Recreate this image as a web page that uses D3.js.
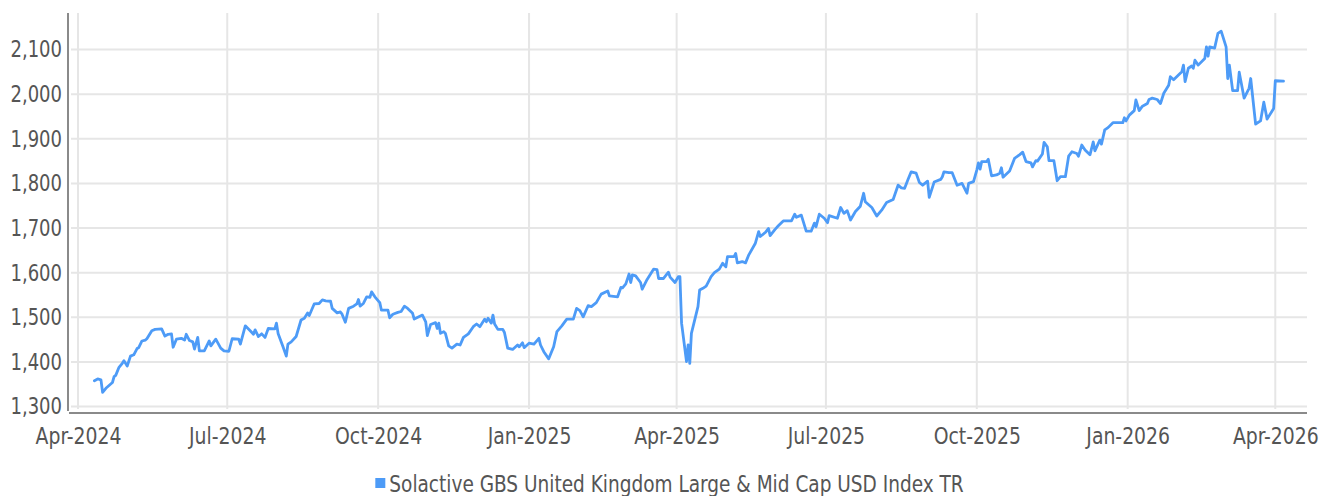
<!DOCTYPE html>
<html><head><meta charset="utf-8">
<script src="https://cdn.jsdelivr.net/npm/d3@7"></script>
<style>
html,body{margin:0;padding:0;background:#fff;}
svg text{font-family:'Liberation Sans Narrow','DejaVu Sans Condensed','Roboto Condensed','Noto Sans',sans-serif;fill:#555;}
</style></head><body>
<svg id="chart" width="1330" height="496"></svg>
<script>
const dates = ["2024-04-11","2024-04-13","2024-04-15","2024-04-16","2024-04-18","2024-04-22","2024-04-23","2024-04-24","2024-04-26","2024-04-28","2024-04-29","2024-05-01","2024-05-03","2024-05-05","2024-05-07","2024-05-08","2024-05-10","2024-05-12","2024-05-13","2024-05-16","2024-05-18","2024-05-22","2024-05-24","2024-05-26","2024-05-28","2024-05-29","2024-05-31","2024-06-03","2024-06-05","2024-06-06","2024-06-08","2024-06-10","2024-06-11","2024-06-13","2024-06-14","2024-06-17","2024-06-20","2024-06-21","2024-06-24","2024-06-27","2024-06-29","2024-07-02","2024-07-04","2024-07-08","2024-07-09","2024-07-12","2024-07-15","2024-07-17","2024-07-18","2024-07-20","2024-07-22","2024-07-24","2024-07-26","2024-07-30","2024-07-31","2024-08-01","2024-08-04","2024-08-06","2024-08-07","2024-08-09","2024-08-12","2024-08-15","2024-08-17","2024-08-19","2024-08-20","2024-08-23","2024-08-26","2024-08-28","2024-08-30","2024-09-02","2024-09-03","2024-09-06","2024-09-08","2024-09-09","2024-09-11","2024-09-13","2024-09-16","2024-09-18","2024-09-19","2024-09-20","2024-09-22","2024-09-24","2024-09-26","2024-09-27","2024-09-29","2024-10-02","2024-10-03","2024-10-07","2024-10-08","2024-10-10","2024-10-13","2024-10-15","2024-10-17","2024-10-19","2024-10-22","2024-10-23","2024-10-28","2024-10-30","2024-10-31","2024-11-02","2024-11-05","2024-11-06","2024-11-07","2024-11-08","2024-11-10","2024-11-11","2024-11-13","2024-11-15","2024-11-18","2024-11-20","2024-11-22","2024-11-25","2024-11-28","2024-11-30","2024-12-02","2024-12-05","2024-12-06","2024-12-07","2024-12-09","2024-12-10","2024-12-11","2024-12-13","2024-12-16","2024-12-17","2024-12-19","2024-12-22","2024-12-25","2024-12-26","2024-12-28","2024-12-29","2025-01-01","2025-01-04","2025-01-07","2025-01-08","2025-01-10","2025-01-13","2025-01-16","2025-01-18","2025-01-21","2025-01-24","2025-01-28","2025-01-30","2025-02-01","2025-02-03","2025-02-06","2025-02-08","2025-02-11","2025-02-14","2025-02-18","2025-02-19","2025-02-24","2025-02-26","2025-02-27","2025-03-01","2025-03-03","2025-03-04","2025-03-05","2025-03-07","2025-03-10","2025-03-11","2025-03-14","2025-03-18","2025-03-20","2025-03-21","2025-03-24","2025-03-27","2025-03-28","2025-03-31","2025-04-02","2025-04-03","2025-04-04","2025-04-07","2025-04-08","2025-04-09","2025-04-10","2025-04-14","2025-04-15","2025-04-17","2025-04-19","2025-04-22","2025-04-24","2025-04-27","2025-04-29","2025-05-01","2025-05-02","2025-05-06","2025-05-07","2025-05-08","2025-05-11","2025-05-13","2025-05-15","2025-05-19","2025-05-21","2025-05-22","2025-05-25","2025-05-27","2025-05-28","2025-05-31","2025-06-02","2025-06-05","2025-06-10","2025-06-12","2025-06-13","2025-06-16","2025-06-19","2025-06-22","2025-06-24","2025-06-25","2025-06-27","2025-06-30","2025-07-02","2025-07-03","2025-07-08","2025-07-10","2025-07-12","2025-07-14","2025-07-16","2025-07-19","2025-07-22","2025-07-24","2025-07-25","2025-07-29","2025-08-01","2025-08-04","2025-08-07","2025-08-11","2025-08-14","2025-08-16","2025-08-18","2025-08-20","2025-08-22","2025-08-25","2025-08-27","2025-08-29","2025-09-01","2025-09-02","2025-09-05","2025-09-09","2025-09-10","2025-09-11","2025-09-14","2025-09-16","2025-09-19","2025-09-22","2025-09-25","2025-09-26","2025-09-29","2025-10-01","2025-10-02","2025-10-03","2025-10-04","2025-10-07","2025-10-08","2025-10-10","2025-10-13","2025-10-15","2025-10-16","2025-10-17","2025-10-21","2025-10-24","2025-10-27","2025-10-29","2025-10-31","2025-11-03","2025-11-04","2025-11-06","2025-11-07","2025-11-10","2025-11-11","2025-11-13","2025-11-14","2025-11-17","2025-11-19","2025-11-21","2025-11-24","2025-11-26","2025-11-28","2025-12-01","2025-12-02","2025-12-04","2025-12-06","2025-12-09","2025-12-11","2025-12-12","2025-12-15","2025-12-16","2025-12-18","2025-12-20","2025-12-23","2025-12-29","2025-12-30","2025-12-31","2026-01-02","2026-01-05","2026-01-06","2026-01-08","2026-01-10","2026-01-13","2026-01-14","2026-01-16","2026-01-19","2026-01-21","2026-01-23","2026-01-26","2026-01-27","2026-01-29","2026-02-03","2026-02-04","2026-02-05","2026-02-07","2026-02-09","2026-02-10","2026-02-11","2026-02-13","2026-02-17","2026-02-18","2026-02-19","2026-02-20","2026-02-23","2026-02-25","2026-02-27","2026-03-02","2026-03-03","2026-03-04","2026-03-06","2026-03-09","2026-03-10","2026-03-13","2026-03-16","2026-03-17","2026-03-20","2026-03-23","2026-03-25","2026-03-27","2026-03-31","2026-04-01","2026-04-06"];
const values = [1358,1362,1360,1332,1341,1354,1367,1370,1388,1397,1403,1391,1413,1416,1430,1432,1447,1449,1452,1470,1473,1474,1458,1462,1463,1433,1451,1453,1449,1462,1448,1445,1429,1455,1425,1425,1447,1436,1451,1431,1425,1424,1452,1451,1440,1481,1470,1462,1472,1457,1463,1455,1475,1474,1487,1464,1434,1413,1440,1445,1457,1494,1498,1510,1504,1530,1531,1539,1537,1536,1520,1510,1512,1507,1489,1520,1525,1530,1540,1525,1531,1546,1545,1557,1546,1533,1516,1516,1499,1507,1511,1513,1525,1520,1509,1496,1505,1490,1459,1484,1488,1475,1487,1464,1468,1464,1436,1431,1440,1438,1455,1463,1479,1485,1479,1496,1490,1498,1487,1505,1485,1473,1473,1466,1431,1428,1438,1434,1443,1432,1442,1440,1453,1438,1423,1407,1434,1468,1481,1496,1496,1520,1515,1501,1526,1524,1533,1552,1559,1548,1546,1567,1566,1575,1597,1578,1595,1593,1578,1563,1585,1608,1607,1587,1587,1601,1590,1578,1591,1591,1487,1401,1438,1397,1464,1524,1561,1565,1570,1591,1600,1608,1621,1613,1636,1636,1643,1622,1625,1622,1640,1666,1692,1681,1690,1699,1683,1697,1705,1716,1716,1731,1724,1729,1693,1693,1711,1703,1731,1722,1712,1728,1722,1746,1733,1739,1718,1737,1749,1778,1759,1746,1727,1740,1757,1764,1796,1790,1789,1808,1826,1823,1802,1796,1805,1769,1803,1809,1815,1826,1824,1824,1796,1800,1778,1800,1804,1830,1846,1832,1849,1849,1854,1817,1819,1823,1835,1814,1828,1856,1864,1870,1849,1846,1837,1851,1850,1866,1892,1882,1851,1851,1806,1815,1815,1861,1871,1867,1861,1886,1875,1864,1893,1873,1897,1888,1920,1925,1936,1936,1947,1940,1953,1963,1987,1963,1973,1979,1988,1991,1988,1979,2002,2020,2039,2032,2050,2065,2028,2058,2063,2058,2076,2065,2080,2106,2085,2106,2103,2136,2141,2106,2035,2065,2008,2008,2049,1991,2013,2035,1933,1940,1982,1944,1968,2030,2029];
const yTickValues = [1300,1400,1500,1600,1700,1800,1900,2000,2100];
const xTickDates = ["2024-04-01","2024-07-01","2024-10-01","2025-01-01","2025-04-01","2025-07-01","2025-10-01","2026-01-01","2026-04-01"];
const seriesName = "Solactive GBS United Kingdom Large & Mid Cap USD Index TR";

const parse = d3.utcParse("%Y-%m-%d");
const data = dates.map((d,i)=>({date:parse(d), value:values[i]}));
const tickDates = xTickDates.map(parse);

const plot = {left:71, right:1307, top:13, bottom:409};
const x = d3.scaleUtc().domain([parse("2024-04-01"), parse("2026-04-01")]).range([78, 1275.3]);
const y = d3.scaleLinear().domain([1300, 2100]).range([406.6, 49.5]);

const svg = d3.select("#chart");
const FS = 23;
const COLOR = "#4d9bf7";

// squeeze a text horizontally around its anchor point (condensed face look)
function squeeze(sel, s) {
  sel.each(function(){
    const t = d3.select(this);
    const ax = +t.attr("x") || 0;
    t.attr("transform", `translate(${ax},0) scale(${s},1) translate(${-ax},0)`);
  });
}

// grid
svg.append("g").selectAll("line").data(yTickValues).join("line")
  .attr("x1", plot.left).attr("x2", plot.right)
  .attr("y1", d=>y(d)).attr("y2", d=>y(d))
  .attr("stroke", "#e6e6e6").attr("stroke-width", 2);
svg.append("g").selectAll("line").data(tickDates).join("line")
  .attr("x1", d=>x(d)).attr("x2", d=>x(d))
  .attr("y1", plot.top).attr("y2", plot.bottom)
  .attr("stroke", "#e6e6e6").attr("stroke-width", 2);

// line
const line = d3.line().x(d=>x(d.date)).y(d=>y(d.value));
svg.append("path").datum(data)
  .attr("fill","none").attr("stroke",COLOR).attr("stroke-width",2.8)
  .attr("stroke-linejoin","round").attr("stroke-linecap","round")
  .attr("d", line);

// axes
const yAxis = d3.axisLeft(y).tickValues(yTickValues).tickFormat(d3.format(",")).tickSize(0).tickPadding(6);
const gy = svg.append("g").attr("transform","translate(68,0)").call(yAxis);
gy.select(".domain").remove();
gy.selectAll("text").attr("font-size", FS).style("font-family", null).call(squeeze, 0.87);

const xAxis = d3.axisBottom(x).tickValues(tickDates).tickFormat(d3.utcFormat("%b-%Y")).tickSize(0).tickPadding(15);
const gx = svg.append("g").attr("transform","translate(0,413)").call(xAxis);
gx.select(".domain").remove();
gx.selectAll("text").attr("font-size", FS).style("font-family", null).call(squeeze, 0.91);

svg.append("line").attr("x1",68).attr("x2",68).attr("y1",13).attr("y2",411)
  .attr("stroke","#8a8a8a").attr("stroke-width",2);
svg.append("line").attr("x1",69).attr("x2",plot.right).attr("y1",413).attr("y2",413)
  .attr("stroke","#8a8a8a").attr("stroke-width",2);

// legend
const lg = svg.append("g");
const lt = lg.append("text").attr("x", 14).attr("y", 0).attr("dy","0.35em")
  .attr("font-size", FS).text(seriesName);
const LS = 0.895;
lt.call(squeeze, LS);
const tw = lt.node().getComputedTextLength() * LS;
const total = 14 + tw;
const lx = 669.5 - total/2;
lg.attr("transform", `translate(${lx},484)`);
lg.append("rect").attr("x",0).attr("y",-6).attr("width",10).attr("height",10).attr("fill",COLOR);
</script>
</body></html>
